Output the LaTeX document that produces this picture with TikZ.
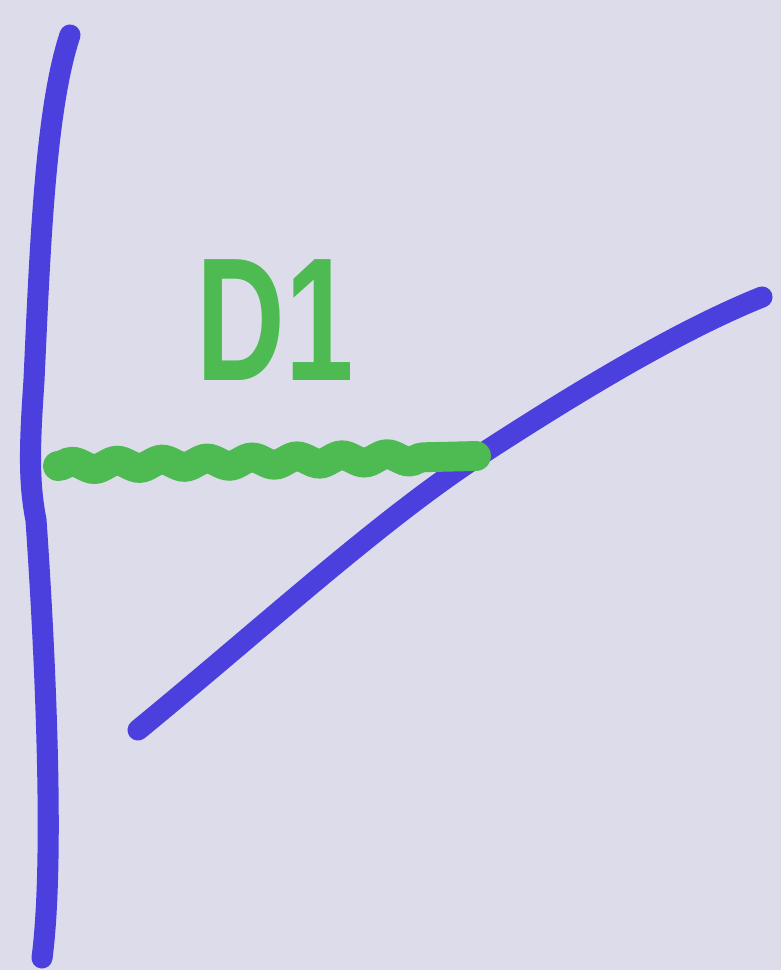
\documentclass[tikz,border=0pt]{standalone}
\usepackage{fontspec}
\setsansfont{Liberation Sans}
\usetikzlibrary{decorations.pathmorphing,positioning}
\definecolor{paper}{HTML}{DDDCEA}
\definecolor{quark}{HTML}{4B40DE}
\definecolor{gluon}{HTML}{4DBA52}

\begin{document}
\begin{tikzpicture}[
  x=0.02cm, y=-0.02cm,
  fermion/.style={draw=quark, line width=12pt, line cap=round, line join=round},
  wavy/.style={draw=gluon, line width=17pt, line cap=round,
    decorate, decoration={snake, amplitude=2.2pt, segment length=0.9cm, post length=0.7cm}},
  tag/.style={text=gluon, font=\sffamily\bfseries\fontsize{100}{100}\selectfont,
    inner sep=0pt, xscale=0.7}
]
\fill[paper] (0,0) rectangle (781,970);
\useasboundingbox (0,0) rectangle (781,970);
% the two lines
\draw[fermion] (70,35) .. controls (45,110) and (40,250) .. (34,380)
  .. controls (30,440) and (28,480) .. (36,520)
  .. controls (45,650) and (55,860) .. (42,958);
\draw[fermion] (138,730) .. controls (260,630) and (380,520) .. (480,455)
  .. controls (580,390) and (680,330) .. (762,297);
% exchange
\coordinate (left) at (58,466);
\coordinate (right) at (476,456);
\draw[wavy] (left) -- (right);
\node[tag] (label) at (275,320) {D1};
\end{tikzpicture}
\end{document}
